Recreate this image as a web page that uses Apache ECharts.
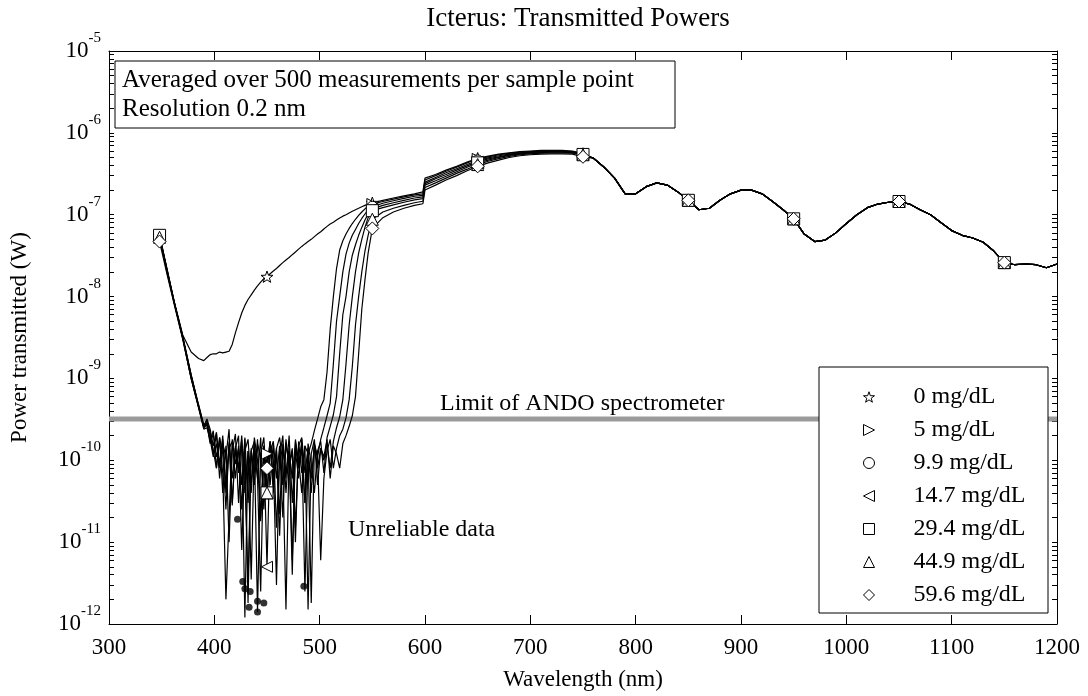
<!DOCTYPE html>
<html>
<head>
<meta charset="utf-8">
<script src="https://cdn.jsdelivr.net/npm/echarts@6/dist/echarts.min.js"></script>
<style>
  html, body { margin: 0; padding: 0; background: #fff; }
  #chart { width: 1088px; height: 696px; }
</style>
</head>
<body>
<div id="chart"></div>
<script>
// wavelength grid (nm)
var wlHead = [348, 355, 362, 370, 378, 385, 390];
var wlNoise = [393, 396, 399, 402, 405, 408, 411, 414, 417, 420, 423, 426, 429, 432, 435, 438, 441, 444, 447, 450,
  453, 456, 459, 462, 465, 468, 471, 474, 477, 480, 483, 486, 489, 492, 495, 498, 501, 504, 507, 510,
  513, 516, 519, 522, 525, 528, 531, 534, 537, 540, 543, 546];
var wlMid = [550, 560, 570, 580, 590, 598, 600, 610, 620, 630, 640, 650, 660, 670, 680, 690, 700, 710, 720, 730, 740, 750];
var wlTail = [760, 770, 780, 790, 800, 810, 820, 830, 840, 850, 860, 870, 880, 890, 900, 910, 920, 930, 940, 950,
  960, 970, 980, 990, 1000, 1010, 1020, 1030, 1040, 1050, 1060, 1070, 1080, 1090, 1100, 1110, 1120, 1130, 1140, 1150,
  1160, 1170, 1180, 1190, 1200];

// above 760 nm every sample overlaps
var tailPower = [4.9e-7, 3.8e-7, 2.8e-7, 1.8e-7, 1.8e-7, 2.2e-7, 2.45e-7, 2.3e-7, 1.9e-7, 1.5e-7,
  1.15e-7, 1.2e-7, 1.5e-7, 1.8e-7, 2.0e-7, 2.0e-7, 1.8e-7, 1.45e-7, 1.15e-7, 8.9e-8,
  5.8e-8, 4.7e-8, 4.9e-8, 6.0e-8, 7.8e-8, 1.0e-7, 1.22e-7, 1.35e-7, 1.42e-7, 1.45e-7,
  1.35e-7, 1.15e-7, 1.0e-7, 8.0e-8, 6.4e-8, 5.6e-8, 5.2e-8, 4.6e-8, 3.6e-8, 2.6e-8,
  2.45e-8, 2.5e-8, 2.45e-8, 2.25e-8, 2.5e-8];

var seriesNames = ['0 mg/dL', '5 mg/dL', '9.9 mg/dL', '14.7 mg/dL', '29.4 mg/dL', '44.9 mg/dL', '59.6 mg/dL'];

// head (wlHead) + noise (wlNoise) + mid (wlMid) for each sample
var p0 = [5.5e-8, 2.1e-8, 8.5e-9, 3.4e-9, 2.1e-9, 1.75e-9, 1.65e-9,
  1.8e-9, 1.95e-9, 2.0e-9, 2.0e-9, 2.1e-9, 2.05e-9, 2.1e-9, 2.15e-9, 2.6e-9, 3.6e-9, 4.8e-9, 6.3e-9, 7.8e-9, 9.2e-9,
  1.05e-8, 1.2e-8, 1.35e-8, 1.5e-8, 1.65e-8, 1.75e-8, 1.9e-8, 2.05e-8, 2.2e-8, 2.4e-8, 2.6e-8, 2.8e-8, 3.0e-8,
  3.25e-8, 3.5e-8, 3.8e-8, 4.1e-8, 4.4e-8, 4.7e-8, 5.0e-8, 5.4e-8, 5.8e-8, 6.2e-8, 6.7e-8, 7.2e-8, 7.7e-8, 8.1e-8,
  8.6e-8, 9.1e-8, 9.6e-8, 1.0e-7, 1.05e-7, 1.1e-7, 1.15e-7, 1.2e-7, 1.25e-7, 1.3e-7, 1.35e-7,
  1.4e-7, 1.5e-7, 1.6e-7, 1.7e-7, 1.8e-7, 1.9e-7, 2.8e-7, 3.1e-7, 3.5e-7, 3.9e-7, 4.4e-7, 4.9e-7, 5.2e-7, 5.5e-7,
  5.7e-7, 5.9e-7, 6.0e-7, 6.1e-7, 6.1e-7, 6.1e-7, 6.0e-7, 5.6e-7];
var p5 = [5.5e-8, 2.1e-8, 8.4e-9, 3.2e-9, 1.1e-9, 4.7e-10, 2.6e-10,
  3.2e-10, 2.4e-10, 1.5e-10, 2.2e-10, 9e-11, 1.8e-10, 5e-11, 1.6e-10, 2.8e-11, 1.4e-10, 7e-11, 2.0e-10, 4e-11, 1.3e-10,
  3.5e-12, 1.5e-10, 6e-11, 1.9e-10, 2.5e-11, 1.2e-10, 5e-11, 1.7e-10, 1.5e-11, 1.1e-10, 2.0e-10, 4e-11, 1.4e-10, 6e-12,
  1.3e-10, 6e-11, 1.8e-10, 3e-11, 1.2e-10, 1.6e-10, 2.3e-10, 3.2e-10, 4.5e-10, 5.5e-10, 1.2e-9, 4e-9, 1.0e-8,
  2.2e-8, 3.7e-8, 4.8e-8, 5.8e-8, 6.8e-8, 7.8e-8, 8.8e-8, 9.8e-8, 1.08e-7, 1.18e-7, 1.28e-7,
  1.35e-7, 1.45e-7, 1.55e-7, 1.65e-7, 1.75e-7, 1.8e-7, 2.65e-7, 3.0e-7, 3.4e-7, 3.8e-7, 4.3e-7, 4.8e-7, 5.1e-7, 5.4e-7,
  5.6e-7, 5.8e-7, 5.9e-7, 6.0e-7, 6.0e-7, 6.0e-7, 5.9e-7, 5.5e-7];
var p9 = [5.6e-8, 2.2e-8, 8.6e-9, 3.3e-9, 1.1e-9, 4.6e-10, 2.5e-10,
  2.9e-10, 1.7e-10, 2.3e-10, 8e-11, 1.9e-10, 4e-11, 1.5e-10, 1.0e-11, 1.3e-10, 2.1e-10, 3e-11, 1.6e-10, 7e-11, 3e-12,
  1.4e-10, 5e-11, 1.8e-10, 2e-11, 1.2e-10, 8e-11, 1.7e-10, 4e-11, 1.3e-10, 1.2e-11, 1.5e-10, 6e-11, 2.0e-10, 3e-11,
  1.4e-10, 9e-11, 1.6e-10, 2.5e-12, 1.2e-10, 6e-11, 1.5e-10, 1.1e-10, 1.8e-10, 2.5e-10, 3.5e-10, 5e-10, 1.5e-9,
  5e-9, 1.0e-8, 2.0e-8, 3.3e-8, 4.5e-8, 5.6e-8, 6.6e-8, 7.8e-8, 9e-8, 1.02e-7, 1.15e-7,
  1.25e-7, 1.38e-7, 1.48e-7, 1.58e-7, 1.68e-7, 1.72e-7, 2.5e-7, 2.85e-7, 3.25e-7, 3.65e-7, 4.1e-7, 4.6e-7, 4.95e-7, 5.25e-7,
  5.5e-7, 5.7e-7, 5.85e-7, 5.95e-7, 5.95e-7, 5.95e-7, 5.85e-7, 5.5e-7];
var p14 = [5.4e-8, 2.1e-8, 8.3e-9, 3.1e-9, 1.0e-9, 4.5e-10, 2.6e-10,
  2.8e-10, 2.0e-10, 1.2e-10, 2.1e-10, 6e-11, 1.6e-10, 1.1e-10, 2.4e-10, 3e-11, 1.5e-10, 8e-11, 1.8e-10, 1.2e-12, 1.3e-10,
  4e-11, 1.9e-10, 1.0e-10, 1.8e-11, 1.5e-10, 5e-12, 1.7e-10, 6e-11, 1.4e-10, 2.2e-11, 1.6e-10, 7e-11, 1.3e-10, 4e-12,
  1.8e-10, 8e-11, 1.4e-10, 3e-11, 1.6e-10, 9e-11, 4e-11, 1.3e-10, 1.7e-10, 7e-11, 1.9e-10, 2.6e-10, 3.6e-10,
  6e-10, 2e-9, 6e-9, 1.0e-8, 2.0e-8, 3.2e-8, 4.3e-8, 5.6e-8, 7e-8, 8.6e-8, 1.02e-7,
  1.18e-7, 1.3e-7, 1.4e-7, 1.5e-7, 1.6e-7, 1.65e-7, 2.4e-7, 2.75e-7, 3.1e-7, 3.5e-7, 3.95e-7, 4.45e-7, 4.8e-7, 5.1e-7,
  5.4e-7, 5.6e-7, 5.75e-7, 5.85e-7, 5.9e-7, 5.9e-7, 5.8e-7, 5.45e-7];
var p29 = [5.6e-8, 2.2e-8, 8.5e-9, 3.2e-9, 1.1e-9, 4.8e-10, 2.7e-10,
  3.0e-10, 2.2e-10, 1.3e-10, 8e-11, 1.9e-10, 1.2e-10, 2.5e-11, 1.7e-10, 6e-11, 1.4e-10, 2.0e-10, 8e-12, 1.3e-10, 1.8e-10,
  5e-11, 1.5e-10, 1.4e-12, 1.2e-10, 1.9e-10, 4e-11, 1.3e-10, 1.7e-10, 6e-11, 1.5e-10, 2e-11, 1.6e-10, 9e-11, 1.4e-10,
  1.0e-11, 1.7e-10, 7e-11, 1.5e-10, 1.5e-12, 1.2e-10, 1.8e-10, 5e-11, 1.4e-10, 1.0e-10, 1.6e-10, 8e-11, 1.7e-10,
  2.5e-10, 3.4e-10, 5.5e-10, 1.5e-9, 4.5e-9, 1.0e-8, 2.0e-8, 3.4e-8, 5e-8, 7e-8, 9.2e-8,
  1.12e-7, 1.22e-7, 1.32e-7, 1.42e-7, 1.52e-7, 1.57e-7, 2.3e-7, 2.6e-7, 2.95e-7, 3.35e-7, 3.8e-7, 4.3e-7, 4.65e-7, 5.0e-7,
  5.3e-7, 5.5e-7, 5.65e-7, 5.75e-7, 5.8e-7, 5.8e-7, 5.75e-7, 5.45e-7];
var p44 = [5.3e-8, 2.0e-8, 8.2e-9, 3.1e-9, 1.0e-9, 4.5e-10, 2.5e-10,
  2.7e-10, 1.6e-10, 2.1e-10, 1.1e-10, 1.7e-10, 7e-11, 2e-12, 2e-11, 1.8e-10, 9e-11, 1.4e-10, 5e-11, 1.9e-10, 3e-11,
  1.3e-10, 1.7e-10, 6e-11, 2.5e-12, 1.5e-10, 4e-11, 1.6e-10, 1.0e-10, 3e-12, 1.4e-10, 5e-11, 1.8e-10, 8e-11, 1.3e-10,
  1.5e-11, 1.5e-10, 1.9e-10, 7e-11, 1.4e-10, 4e-11, 1.6e-10, 1.1e-10, 6e-12, 6e-11, 1.3e-10, 1.8e-10, 8e-11,
  1.4e-10, 2.0e-10, 2.4e-10, 3.3e-10, 5.5e-10, 1.4e-9, 4.5e-9, 1.0e-8, 2.0e-8, 3.6e-8, 5.6e-8,
  8.8e-8, 1.08e-7, 1.2e-7, 1.3e-7, 1.4e-7, 1.46e-7, 2.15e-7, 2.45e-7, 2.8e-7, 3.2e-7, 3.6e-7, 4.1e-7, 4.5e-7, 4.85e-7,
  5.15e-7, 5.4e-7, 5.55e-7, 5.65e-7, 5.7e-7, 5.7e-7, 5.65e-7, 5.4e-7];
var p59 = [4.7e-8, 1.9e-8, 7.9e-9, 3.0e-9, 1.0e-9, 4.4e-10, 2.4e-10,
  2.5e-10, 1.8e-10, 1.1e-10, 1.6e-10, 8e-11, 2.0e-10, 4e-11, 1.4e-10, 1.7e-10, 6e-11, 1.5e-10, 2.5e-11, 1.8e-10, 1.8e-12,
  1.3e-10, 7e-11, 1.6e-10, 1.1e-10, 3.5e-11, 8e-11, 1.7e-10, 5e-11, 1.4e-10, 1.9e-10, 9e-11, 1.5e-12, 1.3e-10, 6e-11,
  1.7e-10, 1.0e-10, 4e-11, 1.5e-10, 1.2e-10, 1.8e-12, 1.6e-10, 8e-11, 1.4e-10, 1.1e-10, 1.8e-10, 6e-11, 1.5e-10,
  1.2e-10, 8e-11, 1.6e-10, 2.0e-10, 2.6e-10, 3.5e-10, 6e-10, 2e-9, 7e-9, 1.6e-8, 3.4e-8,
  6.8e-8, 9.2e-8, 1.08e-7, 1.2e-7, 1.3e-7, 1.36e-7, 2.0e-7, 2.3e-7, 2.65e-7, 3.0e-7, 3.45e-7, 3.9e-7, 4.3e-7, 4.65e-7,
  5.0e-7, 5.25e-7, 5.4e-7, 5.5e-7, 5.55e-7, 5.55e-7, 5.5e-7, 5.1e-7];
var samplePower = [p0, p5, p9, p14, p29, p44, p59];

// filled dots below the noise floor
var dotWl = [422, 427, 429, 434, 433, 441, 447, 441, 485];
var dotPower = [1.9e-11, 3.3e-12, 2.7e-12, 2.5e-12, 1.6e-12, 1.9e-12, 1.8e-12, 1.4e-12, 2.9e-12];

var markerWl = [348, 450, 550, 650, 750, 850, 950, 1050, 1150];
// detection limit of the spectrometer
var limitWl = [300, 1200];
var limitPower = [3.2e-10, 3.2e-10];

var starPath = 'path://M0,-10L2.35,-3.24L9.51,-3.09L3.8,1.24L5.88,8.09L0,4L-5.88,8.09L-3.8,1.24L-9.51,-3.09L-2.35,-3.24Z';
var triRight = 'path://M0,0L10,5L0,10Z';
var triLeft = 'path://M10,0L0,5L10,10Z';
var markers = [
  { symbol: starPath, size: 12 },
  { symbol: triRight, size: 11 },
  { symbol: 'circle', size: 11 },
  { symbol: triLeft, size: 11 },
  { symbol: 'rect', size: 12 },
  { symbol: 'triangle', size: 12 },
  { symbol: 'diamond', size: 13 }
];

var font = '"Liberation Serif", "Times New Roman", serif';
var wlAll = wlHead.concat(wlNoise, wlMid, wlTail);

var yTicks = [];
for (var e = -12; e < -5; e++) {
  for (var m = 1; m < 10; m++) yTicks.push(m * Math.pow(10, e));
}
yTicks.push(1e-5);
var yLabels = [1e-12, 1e-11, 1e-10, 1e-9, 1e-8, 1e-7, 1e-6, 1e-5];

var myChart = echarts.init(document.getElementById('chart'));

var series = samplePower.map(function (vals, k) {
  var ys = vals.concat(tailPower);
  var data = wlAll.map(function (x, i) {
    var item = { value: [x, ys[i]] };
    if (markerWl.indexOf(x) >= 0) {
      item.symbol = markers[k].symbol;
      item.symbolSize = markers[k].size;
    }
    return item;
  });
  return {
    name: seriesNames[k],
    type: 'line',
    data: data,
    symbol: 'none',
    showSymbol: true,
    showAllSymbol: true,
    symbolKeepAspect: true,
    lineStyle: { color: '#000', width: 1.2 },
    itemStyle: { color: '#fff', borderColor: '#000', borderWidth: 1 },
    emphasis: { disabled: true },
    z: 3
  };
});

series.push({
  name: 'limit',
  type: 'line',
  data: limitWl.map(function (x, i) { return [x, limitPower[i]]; }),
  symbol: 'none',
  lineStyle: { color: '#9b9b9b', width: 5 },
  emphasis: { disabled: true },
  silent: true,
  z: 2
});

series.push({
  name: 'dots',
  type: 'scatter',
  data: dotWl.map(function (x, i) { return [x, dotPower[i]]; }),
  symbol: 'circle',
  symbolSize: 7,
  itemStyle: { color: '#000' },
  z: 4
});

var option = {
  animation: false,
  backgroundColor: '#fff',
  title: {
    text: 'Icterus: Transmitted Powers',
    left: 573,
    textAlign: 'center',
    top: 0,
    textStyle: { fontFamily: font, fontSize: 27, fontWeight: 'normal', color: '#000' }
  },
  grid: { left: 104, right: 31, top: 51, bottom: 72 },
  legend: {
    orient: 'vertical',
    left: 858,
    top: 380,
    itemWidth: 11,
    itemHeight: 11,
    itemGap: 9,
    data: seriesNames.map(function (n, k) {
      return { name: n, icon: markers[k].symbol };
    }),
    itemStyle: { color: '#fff', borderColor: '#000', borderWidth: 1 },
    textStyle: { fontFamily: font, fontSize: 24, color: '#000', lineHeight: 24, padding: [0, 0, 0, 34] },
    selectedMode: false,
    z: 10
  },
  xAxis: [{
    type: 'value', min: 300, max: 1200, interval: 100, position: 'bottom',
    name: 'Wavelength (nm)', nameLocation: 'middle', nameGap: 44,
    nameTextStyle: { fontFamily: font, fontSize: 23, color: '#000' },
    axisLine: { lineStyle: { color: '#000', width: 1 } },
    axisTick: { inside: true, length: 9, lineStyle: { color: '#000' } },
    axisLabel: { fontFamily: font, fontSize: 23, color: '#000', margin: 12, formatter: function (v) { return String(v); } },
    splitLine: { show: false }
  }, {
    type: 'value', min: 300, max: 1200, interval: 100, position: 'top',
    axisLine: { lineStyle: { color: '#000', width: 1 } },
    axisTick: { inside: true, length: 9, lineStyle: { color: '#000' } },
    axisLabel: { show: false },
    splitLine: { show: false }
  }],
  yAxis: [{
    type: 'log', logBase: 10, min: 1e-12, max: 1e-5, position: 'left',
    name: 'Power transmitted (W)', nameLocation: 'middle', nameGap: 78,
    nameTextStyle: { fontFamily: font, fontSize: 23, color: '#000' },
    axisLine: { lineStyle: { color: '#000', width: 1 } },
    axisTick: { inside: true, length: 5, lineStyle: { color: '#000' }, customValues: yTicks },
    axisLabel: {
      customValues: yLabels,
      margin: 8,
      formatter: function (v) {
        return '{b|10}{e|' + Math.round(Math.log10(v)) + '}';
      },
      rich: {
        b: { fontFamily: font, fontSize: 23, color: '#000' },
        e: { fontFamily: font, fontSize: 15, color: '#000', padding: [0, 0, 26, 0] }
      }
    },
    splitLine: { show: false }
  }, {
    type: 'log', logBase: 10, min: 1e-12, max: 1e-5, position: 'right',
    axisLine: { lineStyle: { color: '#000', width: 1 } },
    axisTick: { inside: true, length: 5, lineStyle: { color: '#000' }, customValues: yTicks },
    axisLabel: { show: false },
    splitLine: { show: false }
  }],
  graphic: [
    {
      type: 'rect', z: 5,
      shape: { x: 115, y: 61, width: 560, height: 67 },
      style: { fill: '#fff', stroke: '#000', lineWidth: 1 }
    },
    {
      type: 'text', z: 6, left: 122, top: 66,
      style: { text: 'Averaged over 500 measurements per sample point\nResolution 0.2 nm', font: '25px ' + font, fill: '#000', lineHeight: 29 }
    },
    {
      type: 'rect', z: 5,
      shape: { x: 819, y: 367, width: 229, height: 246 },
      style: { fill: '#fff', stroke: '#000', lineWidth: 1 }
    },
    {
      type: 'text', z: 6, left: 440, top: 392,
      style: { text: 'Limit of ANDO spectrometer', font: '24px ' + font, fill: '#000' }
    },
    {
      type: 'text', z: 6, left: 348, top: 518,
      style: { text: 'Unreliable data', font: '24px ' + font, fill: '#000' }
    }
  ],
  series: series
};

myChart.setOption(option);
</script>
</body>
</html>
